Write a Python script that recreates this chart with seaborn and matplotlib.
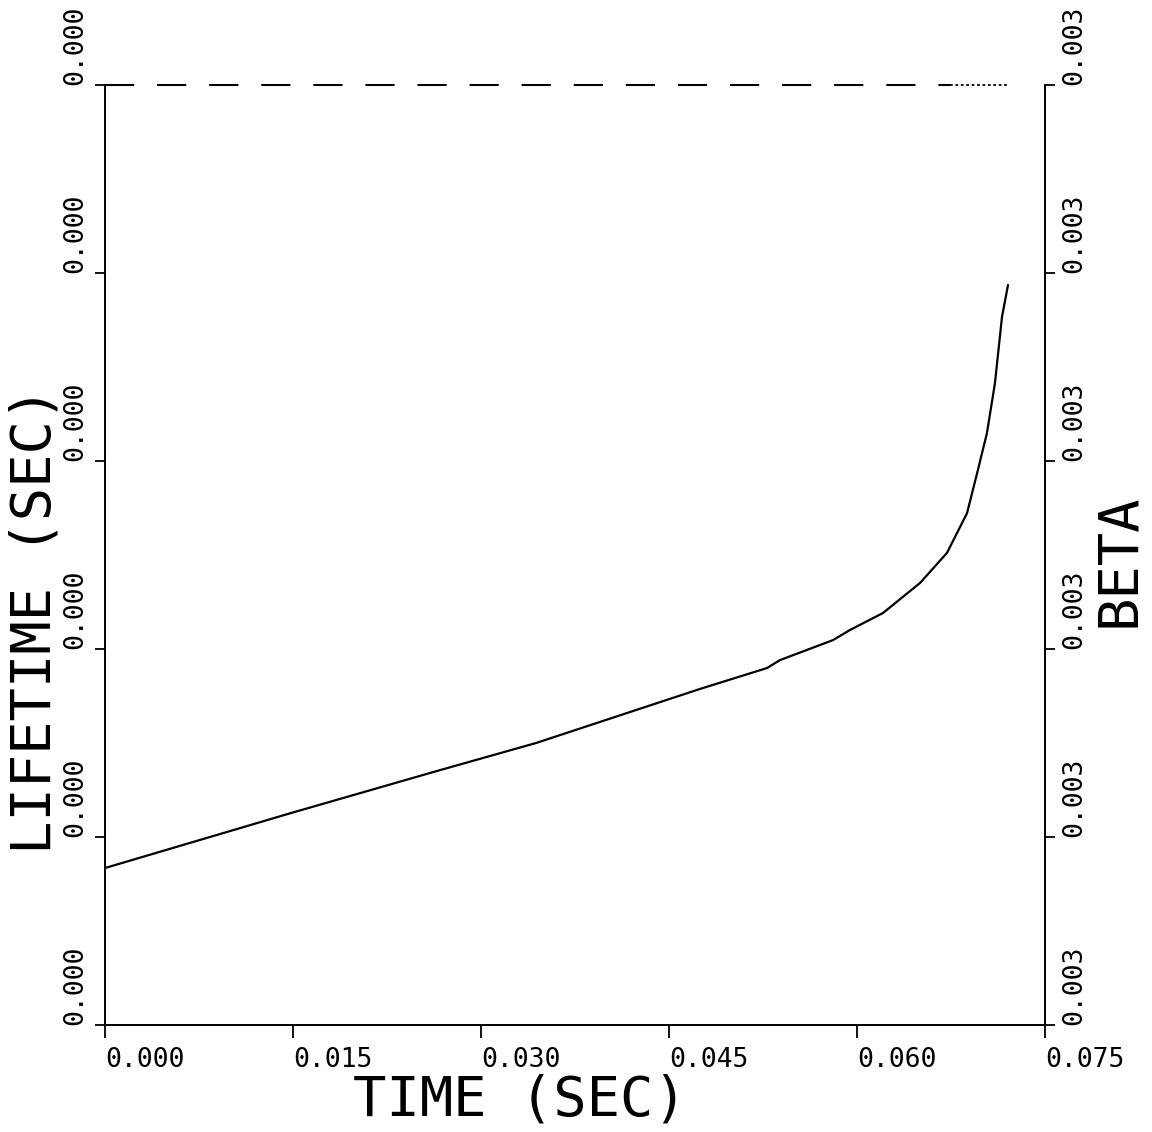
import matplotlib
matplotlib.use("Agg")
import matplotlib.pyplot as plt
from matplotlib.ticker import FormatStrFormatter
import seaborn as sns

# values
time_s = [0.0, 0.01484, 0.02649, 0.03439, 0.04747, 0.05282, 0.05386, 0.05809, 0.05944,
          0.06207, 0.06503, 0.06718, 0.06878, 0.06965, 0.07037, 0.07101, 0.07157, 0.07205]
lifetime_s = [0.0000668, 0.0000902, 0.0001081, 0.0001200, 0.0001430, 0.0001519, 0.0001553,
              0.0001638, 0.0001681, 0.0001753, 0.0001881, 0.0002009, 0.0002178, 0.0002362,
              0.0002519, 0.0002732, 0.0003013, 0.0003149]

beta_time = [0.0, 0.0674, 0.0720]
beta_values = [0.00340, 0.00340, 0.00340]

time_ticks = [0.0, 0.015, 0.030, 0.045, 0.060, 0.075]
lifetime_ticks = [0.0, 0.00008, 0.00016, 0.00024, 0.00032, 0.00040]
beta_ticks = [0.00300, 0.00308, 0.00316, 0.00324, 0.00332, 0.00340]

sns.set_theme(style="white")
plt.rcParams["font.family"] = ["DejaVu Sans Mono", "DejaVu Sans"]

fig = plt.figure(figsize=(11.52, 11.32), dpi=100)
ax = fig.add_axes([0.0911, 0.0945, 0.816, 0.8304])

sns.lineplot(x=time_s, y=lifetime_s, ax=ax, color="black", linewidth=1.6,
             sort=False, estimator=None)

ax2 = ax.twinx()
# beta: long dashes, then a dotted tail
sns.lineplot(x=beta_time[:2], y=beta_values[:2], ax=ax2, color="black", linewidth=1.5,
             linestyle=(0, (14, 11)), sort=False, estimator=None, clip_on=False)
sns.lineplot(x=beta_time[1:], y=beta_values[1:], ax=ax2, color="black", linewidth=1.3,
             linestyle=(0, (1.5, 1.5)), sort=False, estimator=None, clip_on=False)

ax.set_xlim(time_ticks[0], time_ticks[-1])
ax.set_ylim(lifetime_ticks[0], lifetime_ticks[-1])
ax2.set_ylim(beta_ticks[0], beta_ticks[-1])
ax.set_xticks(time_ticks)
ax.set_yticks(lifetime_ticks)
ax2.set_yticks(beta_ticks)
fmt = FormatStrFormatter("%.3f")
ax.xaxis.set_major_formatter(fmt)
ax.yaxis.set_major_formatter(fmt)
ax2.yaxis.set_major_formatter(fmt)

for a in (ax, ax2):
    a.grid(False)
    a.spines["top"].set_visible(False)
    for s in a.spines.values():
        s.set_color("black")
        s.set_linewidth(1.4)
ax.spines["right"].set_visible(False)
ax2.spines["left"].set_visible(False)
ax2.spines["bottom"].set_visible(False)

ax.tick_params(axis="x", bottom=True, direction="out", length=9, width=1.3, pad=7,
               labelsize=19, colors="black")
ax.tick_params(axis="y", left=True, direction="out", length=7, width=1.3, pad=5,
               labelsize=19, labelrotation=90, colors="black")
ax2.tick_params(axis="y", right=True, direction="out", length=7, width=1.3, pad=5,
                labelsize=19, labelrotation=90, colors="black")
for lbl in ax.get_xticklabels():
    lbl.set_ha("left")
for lbl in ax.get_yticklabels() + ax2.get_yticklabels():
    lbl.set_va("bottom")

ax.set_xlabel("TIME (SEC)", fontsize=40, va="center", color="black")
ax.xaxis.set_label_coords(0.4415, -0.0800)
ax.set_ylabel("LIFETIME (SEC)", fontsize=40, va="center", color="black")
ax.yaxis.set_label_coords(-0.0740, 0.431)
ax2.set_ylabel("BETA", fontsize=40, va="center", color="black", rotation=90)
ax2.yaxis.set_label_coords(1.0787, 0.4947)

fig.savefig("out.png", dpi=100, facecolor="white")
